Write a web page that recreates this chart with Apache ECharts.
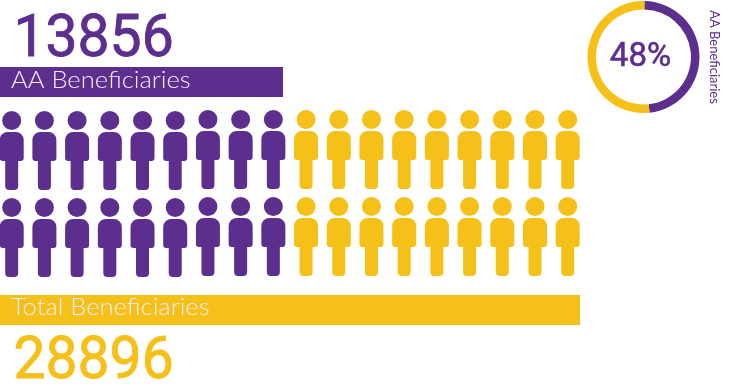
<!DOCTYPE html>
<html>
<head>
<meta charset="utf-8">
<style>html,body{margin:0;padding:0;background:#fff}#c{width:732px;height:389px}</style>
<script src="https://cdn.jsdelivr.net/npm/echarts@6/dist/echarts.min.js"></script>
</head>
<body>
<div id="c"></div>
<script>
// Beneficiary figures
const groupLabels = ['AA Beneficiaries', 'Total Beneficiaries'];
const groupValues = [13856, 28896];
const shareLabel = '48%';
const shareValues = [48, 52];
// Icon grid: columns per row, and how many columns in each row are AA
const iconColumns = [0, 1, 2, 3, 4, 5, 6, 7, 8, 9, 10, 11, 12, 13, 14, 15, 16, 17];
const iconRows = [0, 1];
const aaColumns = 9;

const PURPLE = '#5C2E8E';
const YELLOW = '#F5C018';
const NUM_FONT = 'Roboto';
const LABEL_FONT = 'Lato';

const PERSON = 'path://M12 0a9.5 9.5 0 1 1 0 19a9.5 9.5 0 1 1 0-19Z' +
  'M8 21H16a8 8 0 0 1 8 8V47a3 3 0 0 1-3 3H18.5V75a4 4 0 0 1-4 4H9.5a4 4 0 0 1-4-4V50H3a3 3 0 0 1-3-3V29a8 8 0 0 1 8-8Z';

const iconData = (from, to) => iconRows.flatMap(r =>
  iconColumns.filter(c => c >= from && c < to).map(c => ({
    value: [c, r],
    symbolOffset: [0, c < 6 ? 1 : 0]
  })));

const iconSeries = (data, color) => ({
  type: 'scatter',
  xAxisIndex: 0,
  yAxisIndex: 0,
  symbol: PERSON,
  symbolSize: [24, 79],
  itemStyle: { color, opacity: 1 },
  silent: true,
  data
});

const bigNumber = (text, x, y, color) => ({
  type: 'text',
  x, y,
  z: 100,
  scaleX: 0.95,
  style: { text, fill: color, stroke: color, lineWidth: 0.9, font: '400 60px ' + NUM_FONT, textVerticalAlign: 'middle' }
});
const barCaption = (text, y) => ({
  type: 'text',
  x: 11, y,
  z: 100,
  scaleX: 1.11,
  style: { text, fill: '#f4eefb', font: '300 23px ' + LABEL_FONT, textVerticalAlign: 'middle' }
});

const chart = echarts.init(document.getElementById('c'), null, { renderer: 'canvas' });
chart.setOption({
  animation: false,
  backgroundColor: '#fff',
  grid: [
    { left: 11.7, width: 556, top: 149.5, height: 87 },
    { left: 0, width: 580, top: 82, height: 228 }
  ],
  xAxis: [
    { type: 'value', gridIndex: 0, min: 0, max: 17, show: false },
    // The bars rest on the left edge of the page, a little below zero on this scale
    { type: 'value', gridIndex: 1, min: -473, max: groupValues[1], show: false }
  ],
  yAxis: [
    { type: 'value', gridIndex: 0, min: 0, max: 1, inverse: true, show: false },
    { type: 'category', gridIndex: 1, data: groupLabels, boundaryGap: false, inverse: true, show: false }
  ],
  series: [
    iconSeries(iconData(0, aaColumns), PURPLE),
    iconSeries(iconData(aaColumns, iconColumns.length), YELLOW),
    {
      type: 'custom',
      xAxisIndex: 1,
      yAxisIndex: 1,
      silent: true,
      clip: false,
      data: groupValues.map((v, i) => [v, i]),
      renderItem(params, api) {
        const end = api.coord([api.value(0), api.value(1)]);
        return {
          type: 'rect',
          shape: { x: params.coordSys.x, y: end[1] - 15, width: end[0] - params.coordSys.x, height: 30 },
          style: { fill: api.value(1) === 0 ? PURPLE : YELLOW }
        };
      }
    },
    {
      type: 'pie',
      center: [643.5, 57],
      radius: [47.5, 56],
      startAngle: 89,
      clockwise: true,
      silent: true,
      label: { show: false },
      labelLine: { show: false },
      data: [
        { value: shareValues[0], name: groupLabels[0], itemStyle: { color: PURPLE } },
        { value: shareValues[1], name: 'Other', itemStyle: { color: YELLOW } }
      ]
    }
  ],
  graphic: [
    bigNumber(String(groupValues[0]), 13.5, 40.5, PURPLE),
    bigNumber(String(groupValues[1]), 13.5, 362.5, YELLOW),
    barCaption(groupLabels[0], 81),
    barCaption(groupLabels[1], 308),
    {
      type: 'text',
      x: 640.5, y: 58,
      z: 100,
      style: { text: shareLabel, fill: PURPLE, stroke: PURPLE, lineWidth: 0.6, font: '400 33px ' + NUM_FONT, textAlign: 'center', textVerticalAlign: 'middle' }
    },
    {
      type: 'text',
      x: 714.5, y: 57,
      z: 100,
      rotation: -Math.PI / 2,
      style: { text: groupLabels[0], fill: PURPLE, font: '400 13px ' + LABEL_FONT, textAlign: 'center', textVerticalAlign: 'middle' }
    }
  ]
});
</script>
</body>
</html>
